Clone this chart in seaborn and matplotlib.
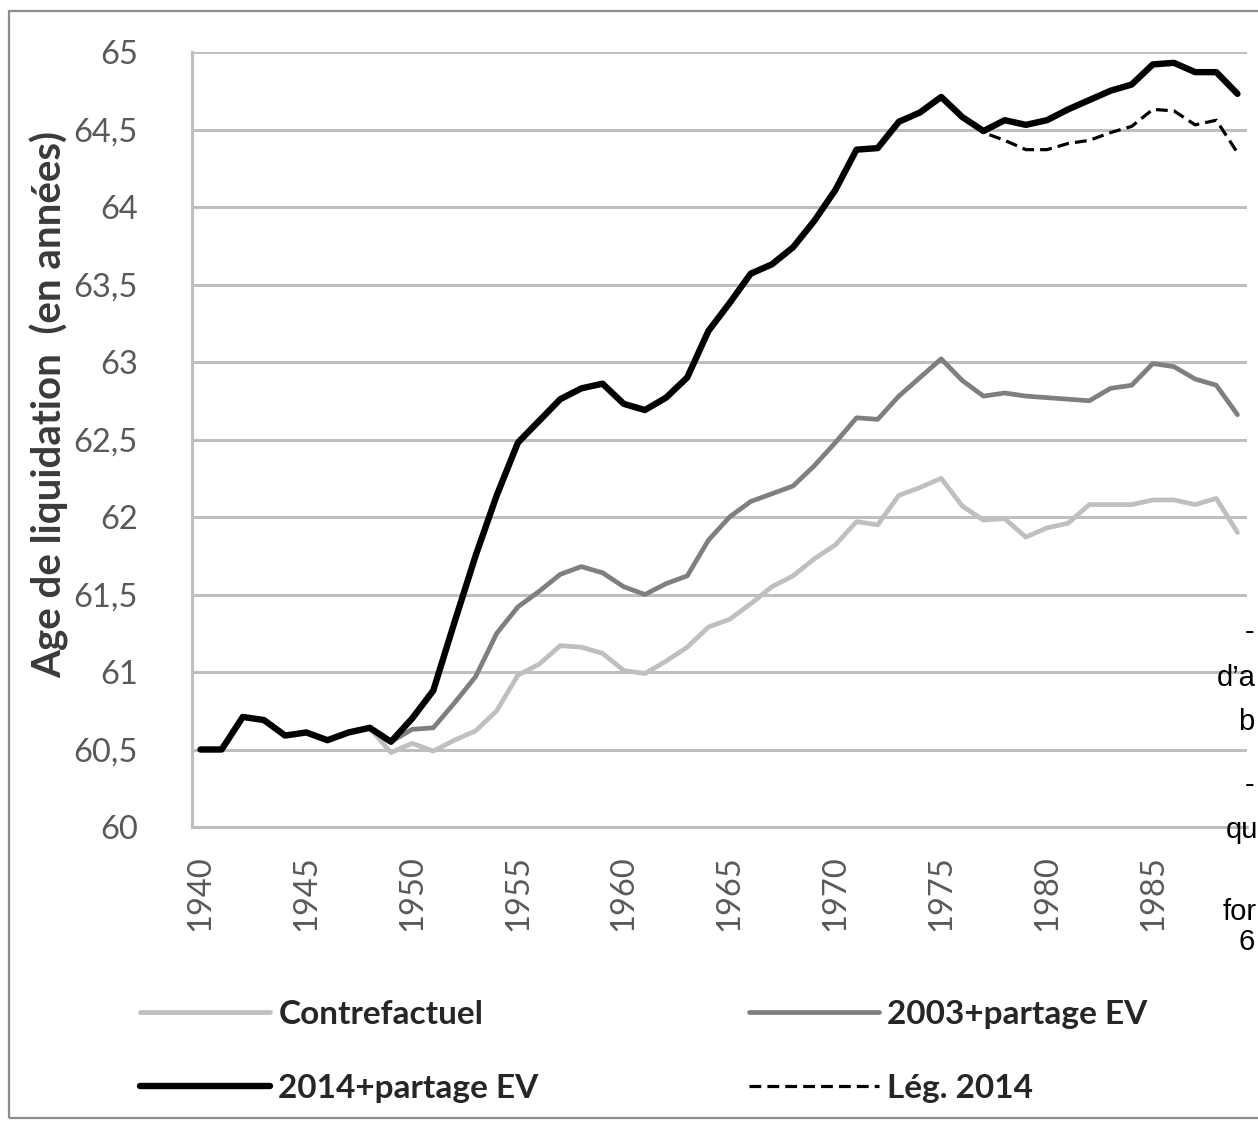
import numpy as np
import pandas as pd
import matplotlib
matplotlib.use("Agg")
import matplotlib.pyplot as plt
from matplotlib.patches import Rectangle
import seaborn as sns

# Years on the category axis
years = list(range(1940, 1990))

# Age de liquidation per generation
contrefactuel = [60.50, 60.50, 60.71, 60.69, 60.59, 60.61, 60.56, 60.61, 60.64, 60.48,
                 60.54, 60.49, 60.56, 60.62, 60.75, 60.98, 61.05, 61.17, 61.16, 61.12,
                 61.01, 60.99, 61.07, 61.16, 61.29, 61.34, 61.44, 61.55, 61.62, 61.73,
                 61.82, 61.97, 61.95, 62.14, 62.19, 62.25, 62.07, 61.98, 61.99, 61.87,
                 61.93, 61.96, 62.08, 62.08, 62.08, 62.11, 62.11, 62.08, 62.12, 61.90]

partage_2003 = [60.50, 60.50, 60.71, 60.69, 60.59, 60.61, 60.56, 60.61, 60.64, 60.55,
                60.63, 60.64, 60.80, 60.97, 61.25, 61.42, 61.52, 61.63, 61.68, 61.64,
                61.55, 61.50, 61.57, 61.62, 61.85, 62.00, 62.10, 62.15, 62.20, 62.33,
                62.48, 62.64, 62.63, 62.78, 62.90, 63.02, 62.88, 62.78, 62.80, 62.78,
                62.77, 62.76, 62.75, 62.83, 62.85, 62.99, 62.97, 62.89, 62.85, 62.66]

partage_2014 = [60.50, 60.50, 60.71, 60.69, 60.59, 60.61, 60.56, 60.61, 60.64, 60.55,
                60.70, 60.88, 61.32, 61.75, 62.14, 62.48, 62.62, 62.76, 62.83, 62.86,
                62.73, 62.69, 62.77, 62.90, 63.20, 63.38, 63.57, 63.63, 63.74, 63.91,
                64.11, 64.37, 64.38, 64.55, 64.61, 64.71, 64.58, 64.49, 64.56, 64.53,
                64.56, 64.63, 64.69, 64.75, 64.79, 64.92, 64.93, 64.87, 64.87, 64.73]

leg_2014 = [60.50, 60.50, 60.71, 60.69, 60.59, 60.61, 60.56, 60.61, 60.64, 60.55,
            60.70, 60.88, 61.32, 61.75, 62.14, 62.48, 62.62, 62.76, 62.83, 62.86,
            62.73, 62.69, 62.77, 62.90, 63.20, 63.38, 63.57, 63.63, 63.74, 63.91,
            64.11, 64.37, 64.38, 64.55, 64.61, 64.71, 64.58, 64.48, 64.43, 64.37,
            64.37, 64.41, 64.43, 64.48, 64.52, 64.63, 64.62, 64.53, 64.56, 64.35]

y_ticks = [60, 60.5, 61, 61.5, 62, 62.5, 63, 63.5, 64, 64.5, 65]
y_tick_labels = ["60", "60,5", "61", "61,5", "62", "62,5", "63", "63,5", "64", "64,5", "65"]
x_ticks = list(range(1940, 1990, 5))

sns.set_style("white")
plt.rcParams['font.family'] = ['Lato', 'DejaVu Sans']

fig = plt.figure(figsize=(12.58, 11.27), dpi=100)
ax = fig.add_axes([192 / 1258, 1 - 827 / 1127, (1247 - 192) / 1258, (827 - 52) / 1127])

grid_col = '#BFBFBF'
for v in y_ticks[1:]:
    ax.axhline(v, color=grid_col, lw=2.2, zorder=0)

sns.lineplot(x=years, y=contrefactuel, ax=ax, color='#BFBFBF', lw=3.4,
             label='Contrefactuel', zorder=2)
sns.lineplot(x=years, y=partage_2003, ax=ax, color='#7F7F7F', lw=3.4,
             label='2003+partage EV', zorder=3)
sns.lineplot(x=years, y=leg_2014, ax=ax, color='black', lw=2.3, linestyle=(0, (3.7, 1.9)),
             label='Lég. 2014', zorder=4)
sns.lineplot(x=years, y=partage_2014, ax=ax, color='black', lw=4.6,
             label='2014+partage EV', zorder=5)

ax.set_xlim(1939.6, 1989.45)
ax.set_ylim(60, 65)
ax.set_yticks(y_ticks)
ax.set_yticklabels(y_tick_labels)
ax.set_xticks(x_ticks)
ax.set_xticklabels([str(x) for x in x_ticks], rotation=90)
ax.tick_params(axis='y', length=0, pad=39, labelsize=23.5, labelcolor='#595959')
ax.tick_params(axis='x', length=0, pad=20, labelsize=23.5, labelcolor='#595959')

for side in ['top', 'right']:
    ax.spines[side].set_visible(False)
for side in ['left', 'bottom']:
    ax.spines[side].set_color(grid_col)
    ax.spines[side].set_linewidth(2.2)

ax.set_xlabel('')
ax.set_ylabel('Age de liquidation  (en années)', fontsize=29, fontweight='bold', color='#3A3A3A')
ax.yaxis.set_label_coords(-0.116, 0.545)

# Legend under the plot, 2 columns
handles, labels = ax.get_legend_handles_labels()
order = ['Contrefactuel', '2014+partage EV', '2003+partage EV', 'Lég. 2014']
hmap = dict(zip(labels, handles))
ax.get_legend().remove()
fig.legend([hmap[k] for k in order], order, ncol=2, loc='upper left',
           bbox_to_anchor=(140 / 1258, 1 - 1000 / 1127), frameon=False,
           borderpad=0, borderaxespad=0, handlelength=3.9, handletextpad=0.25,
           columnspacing=6.3, labelspacing=1.35,
           prop={'family': 'Lato', 'weight': 'bold', 'size': 24})

# Outer frame of the chart object
fig.patches.append(Rectangle((9 / 1258, 1 - 1118 / 1127), 1.2, (1118 - 11) / 1127,
                             transform=fig.transFigure, fill=False,
                             edgecolor='#8C8C8C', lw=1.6, clip_on=False))

# Text from a neighbouring box at the right edge
side_txt = [("-", 1245, 632), ("d’a", 1217, 678), ("b", 1238, 722), ("-", 1245, 785),
            ("qu", 1226, 830), ("for", 1223, 912), ("6", 1238, 942)]
for s, px, py in side_txt:
    fig.text(px / 1258, 1 - py / 1127, s, ha='left', va='center', fontsize=21,
             family=['Liberation Sans', 'DejaVu Sans'], color='black')

fig.savefig('out.png', dpi=100)
